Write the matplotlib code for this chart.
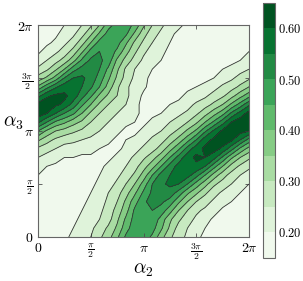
import numpy as np
import matplotlib
matplotlib.use('Agg')
import matplotlib.pyplot as plt

plt.rcParams['mathtext.fontset'] = 'cm'
plt.rcParams['font.family'] = 'serif'

# grid of phases, step pi/12
alpha2 = np.arange(25) * np.pi / 12
alpha3 = np.arange(25) * np.pi / 12

# values (x100), one row per alpha3, bottom row first
z_rows = [
    [17, 17, 18, 19, 21, 23, 25, 29, 33, 39, 46, 48, 48, 44, 37, 31, 27, 24, 21, 19, 18, 17, 16, 16, 16],
    [16, 17, 18, 18, 20, 22, 24, 27, 31, 36, 43, 48, 49, 47, 41, 34, 28, 25, 22, 20, 19, 18, 17, 16, 16],
    [16, 17, 17, 18, 19, 21, 23, 25, 28, 34, 41, 47, 50, 49, 43, 36, 31, 27, 24, 22, 19, 19, 18, 17, 16],
    [16, 16, 17, 18, 18, 20, 21, 24, 27, 32, 38, 46, 50, 50, 48, 42, 35, 30, 26, 24, 22, 19, 18, 18, 17],
    [17, 16, 16, 17, 18, 19, 21, 23, 26, 30, 36, 43, 49, 52, 51, 48, 41, 35, 30, 27, 24, 22, 20, 19, 18],
    [17, 17, 16, 17, 17, 18, 20, 22, 25, 28, 33, 39, 46, 51, 54, 53, 48, 41, 36, 31, 27, 24, 22, 20, 19],
    [18, 17, 17, 17, 17, 18, 19, 21, 23, 26, 30, 35, 42, 50, 54, 56, 55, 50, 43, 37, 31, 28, 25, 22, 20],
    [20, 19, 18, 17, 17, 18, 18, 20, 22, 24, 27, 31, 37, 45, 52, 55, 58, 57, 52, 45, 38, 32, 28, 25, 23],
    [22, 20, 19, 19, 18, 18, 18, 19, 21, 23, 25, 28, 33, 38, 45, 52, 57, 60, 59, 55, 47, 40, 33, 29, 26],
    [25, 23, 22, 20, 20, 19, 19, 19, 19, 21, 23, 26, 29, 33, 38, 45, 52, 58, 61, 60, 57, 49, 41, 35, 31],
    [29, 27, 25, 23, 23, 22, 22, 20, 19, 19, 21, 23, 26, 28, 32, 38, 44, 52, 58, 61, 62, 59, 52, 44, 38],
    [36, 32, 29, 27, 26, 25, 24, 23, 21, 19, 20, 21, 23, 26, 28, 32, 37, 43, 50, 58, 61, 63, 61, 55, 48],
    [45, 39, 35, 33, 31, 29, 27, 25, 23, 21, 19, 19, 21, 23, 25, 28, 31, 36, 41, 49, 56, 61, 63, 62, 60],
    [56, 50, 44, 41, 37, 34, 30, 27, 25, 23, 21, 20, 19, 21, 23, 25, 27, 30, 34, 40, 46, 53, 60, 63, 64],
    [63, 60, 55, 50, 46, 40, 34, 30, 27, 25, 23, 21, 19, 19, 20, 22, 24, 26, 29, 33, 38, 43, 51, 57, 62],
    [62, 63, 61, 59, 53, 46, 40, 34, 30, 27, 25, 21, 19, 18, 19, 20, 21, 23, 26, 28, 31, 35, 41, 47, 54],
    [53, 59, 61, 61, 58, 52, 46, 39, 34, 30, 26, 23, 19, 18, 18, 19, 19, 21, 22, 24, 27, 29, 33, 38, 43],
    [41, 48, 54, 58, 59, 55, 51, 45, 38, 31, 26, 23, 21, 18, 17, 17, 18, 19, 20, 21, 23, 26, 28, 31, 35],
    [32, 36, 42, 50, 55, 56, 53, 48, 41, 34, 28, 24, 21, 19, 18, 17, 17, 18, 19, 19, 20, 22, 24, 27, 29],
    [26, 29, 34, 40, 48, 52, 54, 50, 44, 36, 29, 25, 23, 20, 18, 18, 17, 17, 17, 18, 19, 20, 21, 23, 25],
    [22, 25, 28, 32, 38, 46, 51, 51, 48, 39, 33, 28, 24, 22, 20, 18, 17, 16, 17, 17, 18, 19, 19, 20, 22],
    [19, 22, 24, 27, 32, 39, 47, 50, 48, 44, 37, 31, 26, 23, 21, 19, 18, 17, 16, 17, 17, 17, 18, 19, 20],
    [18, 19, 21, 24, 27, 33, 40, 47, 49, 47, 41, 34, 29, 25, 22, 20, 18, 17, 17, 16, 16, 17, 17, 18, 18],
    [17, 18, 19, 22, 24, 28, 34, 41, 47, 48, 46, 39, 32, 27, 24, 21, 19, 18, 17, 16, 16, 16, 17, 17, 17],
    [16, 17, 18, 20, 22, 25, 29, 35, 43, 47, 47, 44, 36, 30, 26, 23, 21, 19, 18, 17, 16, 16, 16, 16, 16],
]

levels = [0.15, 0.20, 0.25, 0.30, 0.35, 0.40, 0.45, 0.50, 0.55, 0.60, 0.65]
cbar_ticks = [0.20, 0.30, 0.40, 0.50, 0.60]
tick_pos = [0, np.pi / 2, np.pi, 3 * np.pi / 2, 2 * np.pi]
tick_labels = [r'$0$', r'$\frac{\pi}{2}$', r'$\pi$', r'$\frac{3\pi}{2}$', r'$2\pi$']

z = np.array(z_rows) / 100.0

fig = plt.figure(figsize=(3.03, 2.81), dpi=100)
ax = fig.add_axes([0.1254, 0.1566, 0.6964, 0.7544])
cs = ax.contourf(alpha2, alpha3, z, levels=levels, cmap='Greens')
ax.contour(alpha2, alpha3, z, levels=levels, colors='0.2', linewidths=0.6)

ax.set_xlim(0, 2 * np.pi)
ax.set_ylim(0, 2 * np.pi)
ax.set_xticks(tick_pos)
ax.set_xticklabels(tick_labels)
ax.set_yticks(tick_pos)
ax.set_yticklabels(tick_labels)
ax.tick_params(direction='in', length=3, width=0.6, color='0.3',
               top=True, right=True, labelsize=10, pad=3)
for sp in ax.spines.values():
    sp.set_color('0.4')
    sp.set_linewidth(0.8)
ax.set_xlabel(r'$\alpha_2$', fontsize=14, va='center')
ax.xaxis.set_label_coords(0.5, -0.155)
ax.set_ylabel(r'$\alpha_3$', fontsize=14, rotation=0, va='center')
ax.yaxis.set_label_coords(-0.115, 0.54)

cax = fig.add_axes([0.868, 0.0819, 0.0396, 0.9075])
cb = fig.colorbar(cs, cax=cax, ticks=cbar_ticks)
cb.ax.set_yticklabels([r'$%.2f$' % t for t in cbar_ticks])
cb.ax.tick_params(length=0, labelsize=9, pad=2)
cb.outline.set_edgecolor('0.4')
cb.outline.set_linewidth(0.8)

fig.savefig('out.png', dpi=100)
